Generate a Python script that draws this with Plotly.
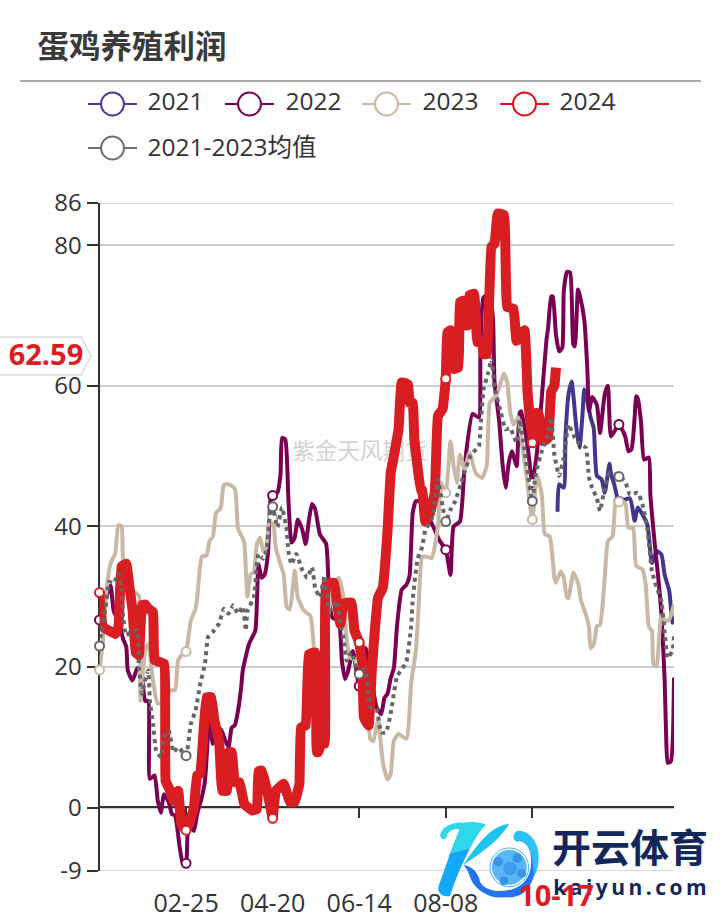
import pandas as pd
import plotly.graph_objects as go

DAYS = [d.strftime("%m-%d") for d in pd.date_range("2024-01-01", "2024-12-31")]
TICK_LABELS = ["02-25", "04-20", "06-14", "08-08"]
ZERO_TICKS = ["02-25", "04-20", "06-14", "08-08", "10-02"]
MARK_DAYS = [0, 55, 110, 165, 220, 275, 330]
Y_TICKS = [-9, 0, 20, 40, 60, 80, 86]
Y_TICK_TEXT = ["-9", "0", "20", "40", "60", "80", "86"]
LAST_LABEL = "10-17"
LAST_VALUE = "62.59"

DAY_2021 = [291,292,295,296,298,300,301,303,305,307,308,310,312,314,316,319,321,324,325,327,330,337,340,342,348,351,354,357,359,362,364,365]
VAL_2021 = [42.1,46,45.5,52.6,58.8,60.6,58.8,54,51.2,56.4,59.5,57.8,55.5,54,47.2,46.7,44.8,48.9,47.4,46,43.6,44,40.8,42.7,40.3,34.8,36.5,36,33.2,30.8,26.3,27]

DAY_2022 = [0,3,7,9,12,15,17,18,21,24,26,29,31,32,35,37,39,41,44,46,48,51,53,55,56,58,60,62,65,67,70,72,77,80,82,84,86,88,90,91,95,99,101,103,105,107,109,110,113,115,116,118,120,122,124,126,129,131,133,135,137,140,144,146,148,152,154,156,158,161,165,169,173,176,179,181,183,185,187,189,192,195,197,199,201,203,207,212,216,220,223,225,229,232,237,241,242,244,248,250,251,254,256,258,260,262,265,267,268,272,275,278,281,284,285,287,288,290,292,294,295,297,299,301,302,304,305,308,310,311,313,316,318,321,323,325,330,334,336,338,340,341,342,344,346,349,350,353,355,357,359,360,361,363,365]
VAL_2022 = [26.7,29,31.6,28,26.6,24,22.9,19.5,18.1,19.8,20,15.2,15.2,4.1,4.6,1,-0.7,1.9,0.8,-0.9,-1.1,-5.7,-8,-7.9,-3.8,-2.8,-3.3,-0.9,1.5,3.8,13.3,9.1,11.2,9.5,8.6,11.4,11.7,13.8,17.1,19.5,23.3,25.2,34.6,32.7,33.2,36.1,44.6,44.4,44.8,47.4,52.6,52.4,44,37.7,38.4,41,39.4,37.5,40.8,43.2,42.5,38.9,37.5,29.4,27,26.6,20.9,18.3,19.5,22.3,17.3,22.7,18,14.3,13.3,15.6,16.2,18.4,19.8,25.8,31,31.7,33,41.9,43.6,43.6,42,40,38,36.7,33.1,40,40.7,48.6,56,55.5,64.3,72.6,72.9,69.5,60.5,54.8,49,45.5,49,50.7,48.6,56.2,56.4,51.4,46.2,50.7,58.3,66.6,68.2,72.7,72.7,67.3,64.9,65.4,73.5,76.2,76.1,65.9,65.6,73.7,73,69.4,62.1,56.4,58.4,57.3,53.3,58.8,60,52.8,54.5,52.8,50.7,51,55.5,58.5,58.2,55,49.5,49.8,44.5,37,32.7,27.5,18.5,10.4,6.4,6.6,18.5]

DAY_2023 = [0,2,4,7,10,12,14,15,19,22,25,26,29,31,34,37,41,45,48,50,54,55,58,61,62,65,68,70,72,74,77,79,82,86,88,91,92,94,96,98,100,102,104,106,108,110,112,115,117,119,121,124,126,130,134,136,138,141,144,148,152,155,157,159,165,170,172,174,177,180,183,185,187,190,195,198,201,203,205,208,211,215,217,220,223,225,227,229,232,235,239,243,246,248,252,257,259,261,263,266,268,271,275,278,281,283,286,289,290,293,295,297,298,301,304,306,309,311,312,314,316,318,321,323,326,328,330,334,336,339,341,345,347,349,351,352,354,355,357,360,362,365]
VAL_2023 = [19.6,23.3,30,34.7,36.2,40.2,40,35.2,32,30.7,30.2,15.2,22.4,23.3,18,14.8,15,16.7,16.7,21,22.2,22.2,26.6,28.3,29.7,35.7,35.9,38,38.5,41.9,42.6,45.9,46,45.4,39.7,38.3,37.7,30,33.2,33.5,37.5,38.4,36.5,37,41.3,41.2,37,34.6,33.2,28.5,28.2,33.7,29.9,28,27.3,23.3,18.5,19,25,31,32.7,29.9,24.2,21.4,20.8,16.2,9.8,9.5,12.5,6.5,4,4.8,9.5,10.5,9.8,17.7,22.4,29.6,35.7,35.7,35.5,40,46.2,44.8,52.1,48.6,46.2,50.2,48.1,50.5,47.6,46.9,48.6,57.6,58.6,61.7,60.5,56.2,54.5,55.5,52.4,47.6,41,47.4,44.5,38.9,38.6,32.7,32,33.6,32.7,29.9,29.8,33.4,32,29.4,27.5,25.6,22.7,23.2,25.8,26,32.7,37.9,38.6,43.6,43.5,43.4,39.8,39.8,34.4,33.9,31.8,25.8,25.1,20.4,20.1,22.3,27.3,26.5,26.8,28.9]

DAY_2024 = [0,1,2,6,10,12,14,17,19,21,23,25,27,29,31,34,35,41,42,45,47,50,52,55,57,60,62,64,66,68,71,73,76,78,81,82,84,86,89,92,97,100,101,103,105,107,110,112,117,121,124,127,128,131,133,137,138,139,141,143,144,149,151,153,155,160,162,165,167,168,171,173,177,180,183,185,187,190,192,196,197,199,200,201,204,205,207,210,213,215,218,220,221,223,225,228,229,231,232,234,235,238,239,240,243,244,246,249,251,253,257,259,263,265,270,272,275,276,279,282,285,287,289,290]
VAL_2024 = [30.6,27.6,25.7,25.2,24.7,25.7,34.3,34.7,31.4,28.1,22.1,21.7,28.8,28.9,28.3,27.8,21,20.5,3.8,2.4,1,2.4,-2.3,-3.2,-2.1,0,4.6,4.8,10.5,15.7,15.7,12.4,9.5,2.4,2.4,7.9,7.9,3.6,3.6,0.5,-0.4,-0.2,5.2,5.3,3.8,1.9,-1.5,2.4,3.4,0.8,0.8,3.4,11.4,11.7,21.8,22.1,7.9,7.9,9.1,9.1,31.8,32,29,26.1,29,29.2,25.2,23.5,20.4,12.8,11.7,19.5,29.9,31.3,39.4,47.6,50,53.8,60.5,60.2,57.6,57.6,52.4,50.5,45.2,45.2,40.7,41.9,44.8,55.7,56.7,61,67.6,67.9,62.4,62.6,71.9,72.1,68.6,68.6,72.9,73.1,70,66.2,66.2,64.5,64.5,79.8,80.2,84.5,84.3,71.2,71,66.4,67.9,59,51.9,56.1,56.1,52.1,52.6,59.2,60,62.59]

DAY_MEAN = [0,1,4,6,9,12,14,15,17,20,24,25,27,29,31,32,34,36,39,41,44,47,50,55,58,61,64,67,69,72,76,79,82,85,88,91,93,94,98,101,104,106,109,110,113,116,119,120,122,125,129,132,135,137,140,143,146,151,153,155,157,160,165,169,172,176,179,182,185,189,195,198,199,202,205,207,211,213,215,218,220,223,226,231,236,241,242,244,247,249,251,255,258,261,263,265,267,270,275,277,281,284,287,289,292,295,298,302,305,309,311,313,316,318,321,324,330,334,337,342,345,348,351,354,357,359,361,364,365]
VAL_MEAN = [23,24.7,28.5,32.1,31.9,33.3,31.4,27.1,24.5,25,25.2,20,16.2,18.1,19.5,15.2,11.9,8.1,7.2,10,11,7.9,8.6,7.4,11.9,13.8,17.6,20.5,24.3,25,26.2,28.3,27.6,28.8,27.6,28.6,25.2,28,29.9,36.1,35.4,36.5,42.9,42.8,39.9,42.7,39.4,36.5,34.6,36.1,33.7,32.7,34.2,31.3,29.9,33,28,29.4,26.1,24.2,20.9,22.1,19,19.7,14.3,14,10.7,10.7,13.4,18.6,20.8,25.8,29.6,35.3,37.1,39.5,41,43.6,46.7,42.9,40.7,42.4,43.6,47.1,50.2,51.4,53.8,59.5,61.9,63.8,59.8,56.2,53.8,54,52.9,51.9,55.2,51,43.6,47.4,50.7,52.6,55.5,50.2,47.2,49.8,54.5,52.6,51.7,51.2,46.9,45.5,44,42.2,45.5,47.6,47.1,46.4,44.5,44.8,43.1,39.8,33.6,31.3,29.4,25.1,21.3,22.3,24.4]

SERIES = [
    ("2021", DAY_2021, VAL_2021, "#45358f", 4, "solid", "#4a3a9c", 0.5),
    ("2022", DAY_2022, VAL_2022, "#7a0053", 4, "solid", "#7a0053", 0.5),
    ("2023", DAY_2023, VAL_2023, "#c8b9a6", 4, "solid", "#c8b9a6", 0.5),
    ("2024", DAY_2024, VAL_2024, "#d81e22", 10, "solid", "#e0111f", 0.25),
    ("2021-2023均值", DAY_MEAN, VAL_MEAN, "#666666", 4, "4px,4px", "#707070", 0.4),
]

W, H = 722, 920
PL, PRX, PT, PBY = 99.5, 674, 203, 871
fx = lambda p: p / W
fy = lambda p: 1 - p / H
FONT = "Open Sans, Noto Sans CJK SC, sans-serif"
CJK = "Noto Sans CJK SC, sans-serif"

fig = go.Figure()
for name, days, vals, color, width, dash, _, smooth in SERIES:
    fig.add_trace(go.Scatter(x=[DAYS[d] for d in days], y=vals, mode="lines", name=name, cliponaxis=False,
                             line=dict(color=color, width=width, dash=dash, shape="spline", smoothing=smooth),
                             showlegend=False))
    mx = [DAYS[d] for d in days if d in MARK_DAYS]
    my = [v for d, v in zip(days, vals) if d in MARK_DAYS]
    fig.add_trace(go.Scatter(x=mx, y=my, mode="markers", showlegend=False, cliponaxis=False,
                             marker=dict(size=9, color="white", line=dict(color=color, width=2))))
# empty trace that brings up the axis drawn along the zero line
fig.add_trace(go.Scatter(x=[DAYS[0]], y=[None], xaxis="x2", mode="lines", showlegend=False))

shapes = []


def line(x0, y0, x1, y1, color, width, layer="above"):
    shapes.append(dict(type="line", xref="paper", yref="paper", x0=fx(x0), x1=fx(x1), y0=fy(y0), y1=fy(y1),
                       line=dict(color=color, width=width), layer=layer))


def text(x, y, s, size, color, anchor="left", family=FONT, bold=False, layer="above", box=6):
    """Real text held by an invisible shape label, so that it stays behind or above the marks as needed."""
    pos = "middle " + anchor
    x0, x1 = (x - 3.5, x + box) if anchor == "left" else (x - box, x + box)
    shapes.append(dict(type="rect", xref="paper", yref="paper", x0=fx(x0), x1=fx(x1), y0=fy(y + 3), y1=fy(y - 3),
                       line=dict(width=0), fillcolor="rgba(0,0,0,0)", layer=layer,
                       label=dict(text=f"<b>{s}</b>" if bold else s, textposition=pos, padding=0.01,
                                  font=dict(size=size, color=color, family=family))))


# end gridlines
for v in (Y_TICKS[0], Y_TICKS[-1]):
    shapes.append(dict(type="line", xref="paper", yref="y", x0=fx(PL), x1=fx(PRX), y0=v, y1=v,
                       line=dict(color="#cccccc", width=1.5), layer="below"))

# header
text(38, 49, "蛋鸡养殖利润", 31.5, "#3a3a3a", family=CJK, bold=True)
line(20, 81, 701, 81, "#aaaaaa", 2)

# legend
LEG = [(88, 104, 148, 102), (225, 104, 286, 102), (362, 104, 423, 102), (500, 104, 560, 102), (88, 148, 148, 148)]
for (nm, _, _, _, _, _, lc, _), (lx, ly, tx, ty) in zip(SERIES, LEG):
    line(lx, ly, lx + 49, ly, lc, 2)
    shapes.append(dict(type="circle", xref="paper", yref="paper", x0=fx(lx + 13), x1=fx(lx + 36),
                       y0=fy(ly - 11.5), y1=fy(ly + 11.5), fillcolor="white", line=dict(color=lc, width=2)))
    text(tx, ty, nm, 24.5, "#333333")

# latest value pointer
pts = [(-4, 337), (81, 337), (91, 356), (81, 375), (-4, 375)]
shapes.append(dict(type="path", xref="paper", yref="paper",
                   path="M" + " L".join(f"{fx(a)},{fy(b)}" for a, b in pts) + " Z",
                   fillcolor="white", line=dict(color="#dddddd", width=1.5)))
text(46, 355, LAST_VALUE, 29, "#e01b24", "center", bold=True)

# watermark, behind the lines
text(360, 452, "紫金天风期货", 22.5, "#d2d2d2", "center", family=CJK, layer="below")


# logo
def zp(x, y):
    return f"{fx(430 + x / 3)},{fy(810 + y / 3)}"


def path(d, fill):
    out = []
    for tok in d.split():
        if tok[0] in "MCLZ":
            cmd, tok = tok[0], tok[1:]
            out.append(cmd)
        if tok:
            a, b = tok.split(",")
            out.append(zp(float(a), float(b)))
    shapes.append(dict(type="path", xref="paper", yref="paper", path=" ".join(out), fillcolor=fill, line=dict(width=0)))


def zcirc(cx, cy, r, fill, lc=None):
    shapes.append(dict(type="circle", xref="paper", yref="paper", x0=fx(430 + (cx - r) / 3), x1=fx(430 + (cx + r) / 3),
                       y0=fy(810 + (cy + r) / 3), y1=fy(810 + (cy - r) / 3), fillcolor=fill,
                       line=dict(color=lc or fill, width=1)))


path("M100,38 C60,35 25,60 32,82 C38,95 52,85 52,72 C62,60 78,55 88,58 L60,130 L120,115 C145,70 155,55 168,45 C150,35 125,35 100,38 Z", "#2ed8ea")
path("M60,130 C50,165 35,200 25,230 C22,250 40,262 60,258 C75,210 95,165 120,115 Z", "#12a8fb")
path("M238,42 C190,45 150,90 100,165 C150,130 200,100 238,42 Z", "#1fc4f2")
path("M100,165 C130,170 145,190 150,215 C165,245 215,250 255,235 C300,215 310,170 300,125 C320,160 322,205 285,245 C265,262 245,262 225,262 C175,268 130,235 120,200 C115,185 110,175 100,165 Z", "#2272f2")
path("M300,125 C290,100 275,90 262,95 C248,92 245,72 262,62 C300,60 330,100 326,150 C325,170 320,185 312,200 C310,170 308,145 300,125 Z", "#2cc0f5")
zcirc(238, 172, 58, "white", "#3fb0f5")
zcirc(238, 172, 51, "#5ab6f5")
zcirc(240, 175, 19, "#3e9cec")
zcirc(205, 155, 13, "#3795e8")
zcirc(262, 145, 13, "#3795e8")
zcirc(275, 190, 12, "#3795e8")
zcirc(222, 212, 12, "#3795e8")
text(630, 851, "<b>开云体育</b>", 39, "#12275a", "center", family=CJK)
text(630, 888, "<b>k\u2009a\u2009i\u2009y\u2009u\u2009n\u2009.\u2009c\u2009o\u2009m</b>", 21, "#12275a", "center")

# latest date on the axis
text(556, 896, LAST_LABEL, 29, "#e01b24", "center", bold=True)

fig.update_layout(
    width=W, height=H, autosize=False, showlegend=False,
    margin=dict(l=0, r=0, t=0, b=0, pad=0), paper_bgcolor="white", plot_bgcolor="white",
    font=dict(family=FONT, color="#333333"), shapes=shapes,
    xaxis=dict(domain=[fx(PL), fx(PRX)], automargin=False, type="category", categoryorder="array", categoryarray=DAYS,
               range=[0, 365], tickmode="array", tickvals=TICK_LABELS, ticktext=TICK_LABELS, ticks="outside", ticklen=10,
               tickcolor="rgba(0,0,0,0)", showline=False, showgrid=False, zeroline=False, tickangle=0,
               tickfont=dict(size=25, color="#333333"), anchor="y", layer="below traces"),
    xaxis2=dict(domain=[fx(PL), fx(PRX)], automargin=False, type="category", categoryorder="array", categoryarray=DAYS,
                range=[0, 365], overlaying="x", tickmode="array", tickvals=ZERO_TICKS, ticks="outside", ticklen=10,
                tickwidth=2, tickcolor="#333333", showticklabels=False, showline=True, linewidth=2, linecolor="#333333",
                showgrid=False, zeroline=False, anchor="free", position=fy(807), layer="below traces"),
    yaxis=dict(domain=[fy(PBY), fy(PT)], automargin=False, range=[-9, 86], tickmode="array", tickvals=Y_TICKS,
               ticktext=Y_TICK_TEXT, ticks="outside", ticklen=11, tickwidth=2, tickcolor="#333333", showline=True,
               linewidth=2, linecolor="#333333", gridcolor="#cccccc", gridwidth=1.5, zeroline=False,
               tickfont=dict(size=24, color="#333333"), layer="below traces"),
)
fig.write_html("out.html", post_script="document.body.style.margin='0';", config={"displayModeBar": False})
